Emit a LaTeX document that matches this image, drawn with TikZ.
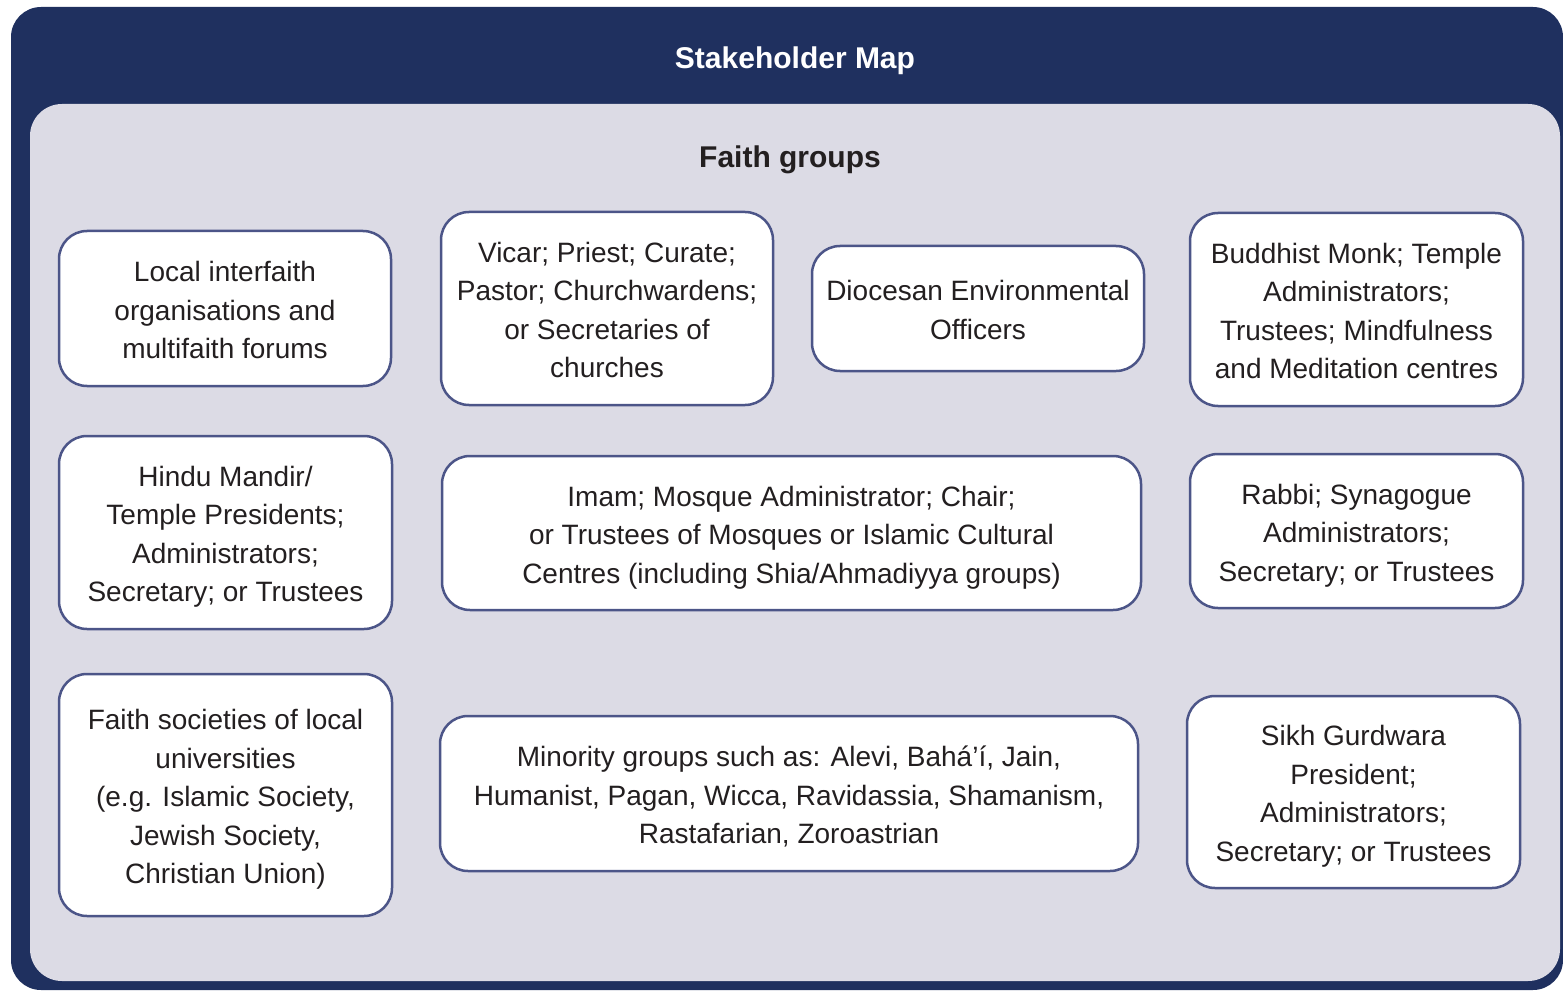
\documentclass[tikz,border=0pt]{standalone}
\usepackage{fontspec}
\setmainfont{Liberation Sans}
\definecolor{navy}{HTML}{1F305F}
\definecolor{panel}{HTML}{DCDBE5}
\definecolor{edge}{HTML}{4C5588}
\definecolor{ink}{HTML}{231F20}
\newcommand{\cardtext}[1]{\raisebox{-4pt}[\height][\depth]{\begin{tabular}{@{}c@{}}#1\end{tabular}}}
\begin{document}
\begin{tikzpicture}[x=1pt,y=-1pt,
  card/.style={draw=edge, line width=2.5pt, fill=white, rounded corners=28pt,
    inner sep=0pt, text=ink,
    font=\fontsize{28}{38.5}\selectfont},
  heading/.style={font=\fontsize{30}{36}\selectfont\bfseries}]
\useasboundingbox (0,0) rectangle (1563,992);
\fill[navy, rounded corners=30pt] (11,7) rectangle (1563,990);
\fill[panel, rounded corners=32pt] (30,104) rectangle (1560,981);
\node[heading, text=white] (title) at (795,61) {Stakeholder Map};
\node[heading, text=ink] (faith) at (790,160) {Faith groups};
% row 1
\node[card, minimum width=332pt, minimum height=155pt] (interfaith) at (225,308.5)
  {\cardtext{Local interfaith\\organisations and\\multifaith forums}};
\node[card, minimum width=332pt, minimum height=193pt] (vicar) at (607,308.5)
  {\cardtext{Vicar; Priest; Curate;\\Pastor; Churchwardens;\\or Secretaries of\\churches}};
\node[card, minimum width=332pt, minimum height=125pt] (diocesan) at (978,308.5)
  {\cardtext{Diocesan Environmental\\Officers}};
\node[card, minimum width=333pt, minimum height=193pt] (buddhist) at (1356.5,309.5)
  {\cardtext{Buddhist Monk; Temple\\Administrators;\\Trustees; Mindfulness\\and Meditation centres}};
% row 2
\node[card, minimum width=333pt, minimum height=193pt] (hindu) at (225.5,532.5)
  {\cardtext{Hindu Mandir/\\Temple Presidents;\\Administrators;\\Secretary; or Trustees}};
\node[card, minimum width=699pt, minimum height=154pt] (imam) at (791.5,533)
  {\cardtext{Imam; Mosque Administrator; Chair;\\or Trustees of Mosques or Islamic Cultural\\Centres (including Shia/Ahmadiyya groups)}};
\node[card, minimum width=333pt, minimum height=154pt] (rabbi) at (1356.5,531)
  {\cardtext{Rabbi; Synagogue\\Administrators;\\Secretary; or Trustees}};
% row 3
\node[card, minimum width=333pt, minimum height=242pt] (societies) at (225.5,795)
  {\cardtext{Faith societies of local\\universities\\(e.g. Islamic Society,\\Jewish Society,\\Christian Union)}};
\node[card, minimum width=698pt, minimum height=155pt] (minority) at (789,793.5)
  {\cardtext{Minority groups such as: Alevi, Bahá’í, Jain,\\Humanist, Pagan, Wicca, Ravidassia, Shamanism,\\Rastafarian, Zoroastrian}};
\node[card, minimum width=333pt, minimum height=192pt] (sikh) at (1353.5,792)
  {\cardtext{Sikh Gurdwara\\President;\\Administrators;\\Secretary; or Trustees}};
\end{tikzpicture}
\end{document}
